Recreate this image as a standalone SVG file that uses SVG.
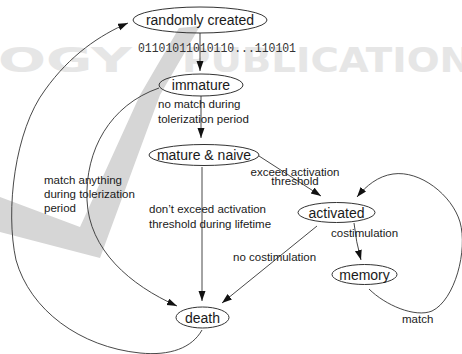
<svg xmlns="http://www.w3.org/2000/svg" width="462" height="354" viewBox="0 0 462 354">
<style>
.node ellipse{fill:none;stroke:#333;stroke-width:1}
.node text{font-family:"Liberation Sans",Arial,sans-serif;font-size:14px;fill:#1a1a1a;text-anchor:middle}
.edge{fill:none;stroke:#333;stroke-width:0.9}
.lbl{font-family:"Liberation Sans",Arial,sans-serif;font-size:11.5px;fill:#1a1a1a}
.mono{font-family:"Liberation Mono","Courier New",monospace;font-size:12px;fill:#333}
.wm{fill:#d6d6d6}
.wmt{font-family:"DejaVu Sans",sans-serif;font-weight:bold;font-size:34px;fill:#e6e6e6}
</style>
<defs>
<marker id="ah" markerUnits="userSpaceOnUse" markerWidth="10" markerHeight="8" refX="10" refY="3.5" orient="auto">
<path d="M0,0 L10,3.5 L0,7 z" fill="#111"/>
</marker>
</defs>
<rect width="462" height="354" fill="#fff"/>
<g id="watermark">
<text class="wmt" x="-2" y="72" textLength="134" lengthAdjust="spacingAndGlyphs">OGY</text>
<text class="wmt" x="182" y="72" textLength="290" lengthAdjust="spacingAndGlyphs">PUBLICATION</text>
<path class="wm" d="M0,197 L80,227 L140,95 L179,28 L200,26 L160,95 L100,258 L0,232 Z"/>
</g>
<g id="connectors">
<path class="edge" d="M200,33 L200,71" marker-end="url(#ah)"/>
<path class="edge" d="M201,96 L201,138" marker-end="url(#ah)"/>
<path class="edge" d="M259,156 L321,196" marker-end="url(#ah)"/>
<path class="edge" d="M202,167 L202,301" marker-end="url(#ah)"/>
<path class="edge" d="M317,226 L222,303" marker-end="url(#ah)"/>
<path class="edge" d="M354,223 Q356,242 361,260" marker-end="url(#ah)"/>
<path class="edge" d="M369,289 C385,305 415,318 432,311 C455,300 468,250 460,222 C452,195 420,170 393,174 C378,176 366,186 357,197" marker-end="url(#ah)"/>
<path class="edge" d="M159,88 C110,105 85,150 87,200 C89,250 130,285 177,306" marker-end="url(#ah)"/>
<path class="edge" d="M202,330 C192,348 170,356 140,353 C80,347 30,310 16,260 C5,210 15,130 45,90 C70,55 100,35 128,23" marker-end="url(#ah)"/>
<text class="mono" x="138" y="52" textLength="158" lengthAdjust="spacingAndGlyphs">01101011010110...110101</text>
<text class="lbl" x="158" y="108">no match during</text>
<text class="lbl" x="158" y="123">tolerization period</text>
<text class="lbl" x="295" y="176" text-anchor="middle">exceed activation</text>
<text class="lbl" x="295" y="185" text-anchor="middle">threshold</text>
<text class="lbl" x="44" y="184">match anything</text>
<text class="lbl" x="44" y="198">during tolerization</text>
<text class="lbl" x="44" y="212">period</text>
<text class="lbl" x="149" y="213">don’t exceed activation</text>
<text class="lbl" x="149" y="228">threshold during lifetime</text>
<text class="lbl" x="331" y="237">costimulation</text>
<text class="lbl" x="233" y="261">no costimulation</text>
<text class="lbl" x="402" y="323">match</text>
</g>
<g id="n-random" class="node"><ellipse cx="200" cy="20" rx="67" ry="13"/><text x="200" y="25">randomly created</text></g>
<g id="n-immature" class="node"><ellipse cx="201" cy="85" rx="42" ry="11"/><text x="201" y="90">immature</text></g>
<g id="n-mature" class="node"><ellipse cx="204" cy="155" rx="55" ry="10.5"/><text x="204" y="160">mature &amp; naive</text></g>
<g id="n-activated" class="node"><ellipse cx="336.5" cy="212.5" rx="38.5" ry="10"/><text x="336.5" y="217.5">activated</text></g>
<g id="n-memory" class="node"><ellipse cx="364.5" cy="274.5" rx="32.5" ry="10"/><text x="364.5" y="279.5">memory</text></g>
<g id="n-death" class="node"><ellipse cx="202.5" cy="317.5" rx="26.5" ry="10.5"/><text x="202.5" y="322.5">death</text></g>
</svg>
